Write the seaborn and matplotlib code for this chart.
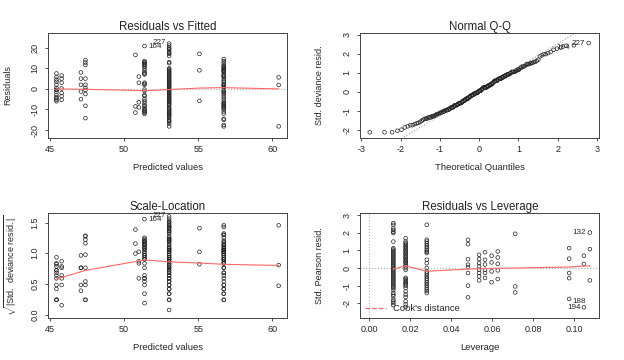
import numpy as np
import pandas as pd
import matplotlib
matplotlib.use("Agg")
import matplotlib.pyplot as plt
from matplotlib.lines import Line2D
import seaborn as sns
from statistics import NormalDist

# fitted value of each group of observations
fitted_groups = [45.45, 45.8, 47.1, 47.4, 50.77, 51.0, 51.38, 53.04, 55.08, 56.72, 60.42]
res_g1 = [7.5, 5.8, 4.5, 3.5, 2.0, 0.5, -0.5, -0.5, -1.5, -3.0, -4.0, -4.5, -5.3, -6.0]
res_g2 = [6.5, 5.0, 3.0, 0.2, -2.0, -3.5, -5.3]
res_g3 = [8.0, 5.0, 2.0, -1.3, -5.0]
res_g4 = [14.0, 12.8, 11.6, 5.0, 2.0, 0.5, -0.5, -2.5, -8.2, -14.2]
res_g5 = [16.5, -8.5, -11.5]
res_g6 = [6.0, 3.0, -6.5, -9.0]
res_g7 = [20.8, 13.5, 13.0, 12.5, 12.0, 11.5, 11.0, 10.0, 9.0, 8.0, 7.5, 7.0, 3.0, 2.5, 2.0,
          -0.3, -1.0, -3.0, -3.5, -5.0, -6.0, -7.0, -8.0, -8.5, -9.5, -10.0, -10.5, -11.0, -11.5, -12.2]
res_g8 = [22.0, 21.0, 20.0, 19.5, 19.0, 18.0, 17.5, 17.0, 16.0, 13.0, 12.5, 10.0, 9.5, 9.0, 8.5, 8.0,
          7.5, 7.0, 6.5, 6.0, 5.5, 5.0, 4.5, 4.0, 3.5, 3.0, 2.5, 2.0, 1.5, 1.0, 0.5, 0.05, -0.5, -1.0,
          -1.5, -2.0, -2.5, -3.0, -3.5, -4.0, -4.5, -5.0, -5.5, -6.0, -6.5, -7.0, -7.5, -8.0, -9.0, -9.5,
          -10.0, -10.5, -11.0, -11.5, -12.0, -12.5, -13.0, -13.5, -14.0, -15.0, -15.5, -16.0, -17.0, -18.2]
res_g9 = [17.0, 9.0, -5.8]
res_g10 = [14.5, 13.5, 12.5, 11.5, 11.0, 10.5, 10.0, 9.5, 9.0, 9.0, 8.5, 8.0, 7.0, 6.5, 6.0, 6.0, 5.0,
           4.0, 3.5, 2.5, 2.0, 1.5, 1.0, 0.5, -0.5, -1.0, -1.5, -2.0, -3.0, -4.0, -5.0, -6.0, -7.0, -7.0,
           -7.5, -8.0, -8.5, -9.0, -9.5, -10.0, -11.0, -12.0, -14.5, -15.0, -17.5, -18.2]
res_g11 = [5.6, 1.9, -18.2]
residual_sigma = 8.6

# smoother lines
fit_smooth_x = [45.45, 47.4, 50.0, 51.38, 53.04, 55.08, 56.72, 60.42]
fit_smooth_y = [0.0, -0.2, -0.6, -0.9, -0.3, 0.4, 0.6, 0.0]
sl_smooth_x = [45.45, 47.4, 51.38, 53.04, 55.08, 56.72, 60.42]
sl_smooth_y = [0.58, 0.72, 0.89, 0.86, 0.84, 0.82, 0.80]

# leverage groups and standardized Pearson residuals
lev_groups = [0.0117, 0.0177, 0.028, 0.0481, 0.0535, 0.0564, 0.0596, 0.0626, 0.0711, 0.0974, 0.1046, 0.1075]
lev_r1 = [2.55, 2.45, 2.25, 2.15, 2.05, 1.98, 1.5, 1.12, 1.05, 0.98, 0.9, 0.82, 0.75, 0.68, 0.6, 0.52,
          0.45, 0.38, 0.3, 0.22, 0.15, 0.08, 0.0, -0.08, -0.15, -0.22, -0.3, -0.38, -0.45, -0.52, -0.6,
          -0.68, -0.75, -0.82, -0.9, -0.98, -1.05, -1.12, -1.22, -1.4, -1.5, -1.6, -1.78, -1.88, -1.98, -2.1]
lev_r2 = [1.69, 1.5, 1.4, 1.32, 1.25, 1.18, 1.1, 1.02, 0.95, 0.88, 0.8, 0.72, 0.65, 0.58, 0.5, 0.42,
          0.35, 0.28, 0.2, 0.1, 0.0, -0.1, -0.55, -0.62, -0.7, -0.78, -0.85, -0.92, -1.0, -1.12, -1.32,
          -1.5, -1.64, -1.88, -2.05, -2.2]
lev_r3 = [2.45, 1.6, 1.5, 1.4, 1.3, 1.2, 1.1, 1.0, 0.92, 0.85, 0.47, 0.28, 0.0, -0.19, -0.3, -0.4,
          -0.5, -0.6, -0.7, -0.8, -0.9, -1.0, -1.1, -1.2, -1.3, -1.41]
lev_r4 = [1.6, 1.35, 0.5, 0.19, 0.06, -0.28, -1.0, -1.66]
lev_r5 = [0.75, 0.51, 0.28, 0.09, -0.1, -0.28, -0.47, -0.7]
lev_r6 = [0.9, 0.47, 0.2, -0.1, -0.28, -0.56]
lev_r7 = [0.7, 0.32, -0.19, -0.8]
lev_r8 = [0.94, 0.6, 0.24, -0.13, -0.62]
lev_r9 = [1.94, -1.04, -1.38]
lev_r10 = [1.13, 0.53, -0.28, -0.57, -1.75]
lev_r11 = [0.7, 0.24, -2.22]
lev_r12 = [2.01, 1.07, -0.7]
lev_smooth_x = [0.0117, 0.0177, 0.028, 0.0481, 0.06, 0.0711, 0.0974, 0.1075]
lev_smooth_y = [-0.06, 0.12, -0.18, -0.06, -0.02, 0.0, 0.06, 0.13]

res_lists = [res_g1, res_g2, res_g3, res_g4, res_g5, res_g6, res_g7, res_g8, res_g9, res_g10, res_g11]
lev_lists = [lev_r1, lev_r2, lev_r3, lev_r4, lev_r5, lev_r6, lev_r7, lev_r8, lev_r9, lev_r10, lev_r11, lev_r12]

df = pd.DataFrame({
    "fitted": np.concatenate([[f] * len(r) for f, r in zip(fitted_groups, res_lists)]),
    "resid": np.concatenate(res_lists),
})
df["std"] = df["resid"] / residual_sigma
df["sl"] = np.sqrt(df["std"].abs())

qq = pd.DataFrame({"sample": np.sort(df["std"].values)})
n = len(qq)
qq["theo"] = [NormalDist().inv_cdf((i + 0.5) / n) for i in range(n)]
q1, q3 = np.quantile(qq["sample"], [0.25, 0.75])
z1, z3 = NormalDist().inv_cdf(0.25), NormalDist().inv_cdf(0.75)
qq_slope = (q3 - q1) / (z3 - z1)
qq_int = q1 - qq_slope * z1

lev = pd.DataFrame({
    "h": np.concatenate([[h] * len(r) for h, r in zip(lev_groups, lev_lists)]),
    "r": np.concatenate(lev_lists),
})

sns.set_theme(style="ticks")
plt.rcParams["font.family"] = ["Liberation Sans", "DejaVu Sans"]
plt.rcParams["axes.unicode_minus"] = False
plt.rcParams["mathtext.fontset"] = "custom"
plt.rcParams["mathtext.rm"] = "Liberation Sans"

fig = plt.figure(figsize=(6.24, 3.6), dpi=100)
W, H = 624, 360
def add(left, top):
    return fig.add_axes([left / W, 1 - (top + 104.4) / H, 239 / W, 104.4 / H])

ax1 = add(48.3, 33.3)
ax2 = add(360.3, 33.3)
ax3 = add(48.3, 213.3)
ax4 = add(360.3, 213.3)

pt = dict(marker="o", s=7, facecolors="none", edgecolors="#222222", linewidth=0.5)
red = "#ff6666"
lab_fs = 5.8

# Residuals vs Fitted
ax1.axhline(0, color="#aaaaaa", ls=":", lw=0.8)
sns.scatterplot(data=df, x="fitted", y="resid", ax=ax1, **pt)
sns.lineplot(x=fit_smooth_x, y=fit_smooth_y, ax=ax1, color=red, lw=0.8, sort=False, estimator=None)
ax1.set_xlim(44.9, 61.0)
ax1.set_ylim(-23.7, 27)
ax1.set_xticks([45, 50, 55, 60])
ax1.set_yticks([-20, -10, 0, 10, 20])
ax1.set_title("Residuals vs Fitted")
ax1.set_xlabel("Predicted values")
ax1.set_ylabel("Residuals")
ax1.annotate("164", (51.38, 20.8), xytext=(2.5, -0.5), textcoords="offset points", ha="left", va="center", fontsize=lab_fs)
ax1.annotate("227", (53.04, 22.0), xytext=(-2.5, 0.5), textcoords="offset points", ha="right", va="center", fontsize=lab_fs)

# Normal Q-Q
xx = np.array([-3.2, 3.2])
ax2.plot(xx, qq_int + qq_slope * xx, color="#999999", ls=":", lw=0.8)
sns.scatterplot(data=qq, x="theo", y="sample", ax=ax2, **pt)
ax2.set_xlim(-3.03, 3.06)
ax2.set_ylim(-2.4, 3.07)
ax2.set_xticks(range(-3, 4))
ax2.set_yticks(range(-2, 4))
ax2.set_title("Normal Q-Q")
ax2.set_xlabel("Theoretical Quantiles")
ax2.set_ylabel("Std. deviance resid.")
top = qq.iloc[-2:]
ax2.annotate("164", (top["theo"].iloc[0], top["sample"].iloc[0]), xytext=(-2.5, -1.5), textcoords="offset points", ha="right", va="center", fontsize=lab_fs)
ax2.annotate("227", (top["theo"].iloc[1], top["sample"].iloc[1]), xytext=(-2.5, 0), textcoords="offset points", ha="right", va="center", fontsize=lab_fs)

# Scale-Location
sns.scatterplot(data=df, x="fitted", y="sl", ax=ax3, **pt)
sns.lineplot(x=sl_smooth_x, y=sl_smooth_y, ax=ax3, color=red, lw=0.8, sort=False, estimator=None)
ax3.set_xlim(44.9, 61.0)
ax3.set_ylim(-0.05, 1.65)
ax3.set_xticks([45, 50, 55, 60])
ax3.set_yticks([0, 0.5, 1.0, 1.5])
ax3.set_yticklabels(["0.0", "0.5", "1.0", "1.5"])
ax3.set_title("Scale-Location")
ax3.set_xlabel("Predicted values")
ax3.set_ylabel(r"$\sqrt{|\mathrm{Std.\ deviance\ resid.}|}$")
ax3.annotate("164", (51.38, np.sqrt(20.8 / residual_sigma)), xytext=(2.5, -0.5), textcoords="offset points", ha="left", va="center", fontsize=lab_fs)
ax3.annotate("227", (53.04, np.sqrt(22.0 / residual_sigma)), xytext=(-2.5, 0.5), textcoords="offset points", ha="right", va="center", fontsize=lab_fs)

# Residuals vs Leverage
ax4.axhline(0, color="#aaaaaa", ls=":", lw=0.8)
ax4.axvline(0, color="#aaaaaa", ls=":", lw=0.8)
sns.scatterplot(data=lev, x="h", y="r", ax=ax4, **pt)
sns.lineplot(x=lev_smooth_x, y=lev_smooth_y, ax=ax4, color=red, lw=0.8, sort=False, estimator=None)
ax4.set_xlim(-0.0044, 0.1121)
ax4.set_ylim(-2.81, 3.1)
ax4.set_xticks([0, 0.02, 0.04, 0.06, 0.08, 0.10])
ax4.set_xticklabels(["0.00", "0.02", "0.04", "0.06", "0.08", "0.10"])
ax4.set_yticks(range(-2, 4))
ax4.set_title("Residuals vs Leverage")
ax4.set_xlabel("Leverage")
ax4.set_ylabel("Std. Pearson resid.")
ax4.annotate("132", (0.1075, 2.01), xytext=(-2.5, 0), textcoords="offset points", ha="right", va="center", fontsize=lab_fs)
ax4.annotate("188", (0.0974, -1.75), xytext=(2.5, -2), textcoords="offset points", ha="left", va="center", fontsize=lab_fs)
ax4.annotate("194", (0.1046, -2.22), xytext=(-2.5, 0), textcoords="offset points", ha="right", va="center", fontsize=lab_fs)
ax4.legend(handles=[Line2D([], [], color=red, ls="--", lw=0.9)], labels=["Cook's distance"],
           loc="lower left", frameon=False, fontsize=6.8, handlelength=2.2, borderaxespad=0.1,
           bbox_to_anchor=(0.0, 0.0))

for ax in (ax1, ax2, ax3, ax4):
    ax.set_title(ax.get_title(), fontsize=8.3, pad=2.5, color="#222222")
    ax.xaxis.label.set_fontsize(6.8)
    ax.yaxis.label.set_fontsize(6.5)
    ax.xaxis.set_label_coords(0.5, -0.24)
    ax.xaxis.label.set_va("top")
    ax.yaxis.set_label_coords(-0.19, 0.5)
    ax.yaxis.label.set_va("top")
    ax.tick_params(axis="both", labelsize=6.5, length=2.5, width=0.6, color="#333333", direction="out")
    ax.tick_params(axis="x", pad=3)
    ax.tick_params(axis="y", pad=4)
    for lab in ax.get_yticklabels():
        lab.set_rotation(90)
        lab.set_va("center")
    for sp in ax.spines.values():
        sp.set_visible(True)
        sp.set_color("#444444")
        sp.set_linewidth(0.7)

fig.savefig("out.png", dpi=100, facecolor="white")
